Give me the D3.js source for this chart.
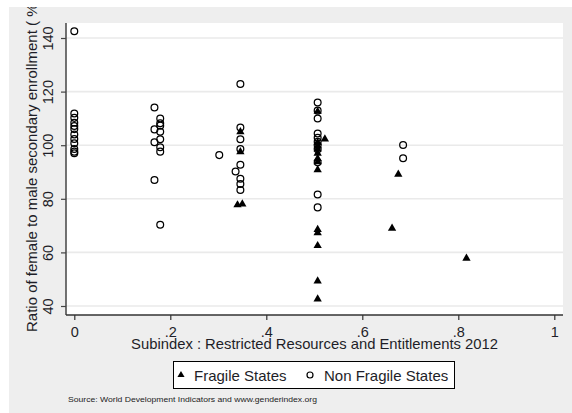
<!DOCTYPE html>
<html>
<head>
  <script src="https://cdn.jsdelivr.net/npm/d3@7"></script>
  <style>
    body { margin: 0; background: #fff; }
    svg { display: block; font-family: "Liberation Sans", Arial, sans-serif; }
  </style>
</head>
<body>
<div id="chart"></div>
<script>
  // non fragile states (hollow circles)
  const nonFragileX = [
    0, 0, 0, 0, 0, 0, 0, 0, 0, 0, 0, 0,
    .167, .167, .167, .167,
    .179, .179, .179, .179, .179, .179, .179, .179,
    .302,
    .346, .346, .346, .346, .346, .346, .346, .346, .336,
    .507, .507, .507, .507, .507, .507, .507, .507, .507, .507, .507,
    .685, .685
  ];
  const nonFragileY = [
    142.5, 111.8, 110.2, 108.4, 107.2, 106, 104, 102.3, 100.7, 98.6, 97.6, 97,
    114.1, 105.9, 101.1, 87.0,
    110, 108.2, 107.3, 105, 102.2, 99.2, 97.6, 70.3,
    96.3,
    122.8, 106.6, 102.2, 98.6, 92.7, 87.5, 85.5, 83.3, 90.2,
    115.9, 112.9, 110, 104.4, 102.8, 101.3, 100, 98.5, 93.6, 81.6, 76.8,
    100.1, 95.1
  ];

  // fragile states (filled triangles)
  const fragileX = [
    .346, .346, .340, .350,
    .507, .507, .507, .507, .507, .507, .507, .507, .507, .507, .507, .507, .507, .522,
    .675, .662, .817
  ];
  const fragileY = [
    105, 97.5, 77.7, 78,
    112.6, 101, 99.8, 98.5, 97, 95, 93.8, 90.8, 68.5, 67.3, 62.5, 49.3, 42.6, 102.3,
    89.1, 69, 57.8
  ];

  const xTicks = [0, .2, .4, .6, .8, 1];
  const yTicks = [40, 60, 80, 100, 120, 140];

  const W = 572, H = 413;
  const plot = { left: 66, right: 563, top: 23, bottom: 315 };
  const ink = "#1e1e28";

  const svg = d3.select("#chart").append("svg")
    .attr("width", W).attr("height", H);

  // graph region
  svg.append("rect").attr("x", 9).attr("y", 7)
    .attr("width", W - 9).attr("height", H - 7).attr("fill", "#eeeeee");
  svg.append("rect").attr("x", plot.left).attr("y", plot.top)
    .attr("width", plot.right - plot.left).attr("height", plot.bottom - plot.top)
    .attr("fill", "#fff");

  const x = d3.scaleLinear().domain([0, 1]).range([74.3, 554.3]);
  const y = d3.scaleLinear().domain([40, 140]).range([306, 38]);

  // grid
  svg.append("g").selectAll("line")
    .data(yTicks)
    .join("line")
    .attr("x1", plot.left).attr("x2", plot.right)
    .attr("y1", d => y(d)).attr("y2", d => y(d))
    .attr("stroke", "#eaeaea").attr("stroke-width", 1.6);

  const fmt = d => d === 0 ? "0" : d === 1 ? "1" : String(d).replace("0.", ".");

  // y axis
  const yAxis = svg.append("g")
    .attr("transform", `translate(${plot.left},0)`)
    .call(d3.axisLeft(y).tickValues(yTicks).tickSize(5).tickPadding(0).tickFormat(d3.format("d")));
  yAxis.select(".domain").attr("d", `M0,${plot.top}V${plot.bottom}`)
    .attr("stroke", "#444").attr("stroke-width", 1.5);
  yAxis.selectAll(".tick line").attr("stroke", "#444").attr("stroke-width", 1.2);
  yAxis.selectAll(".tick text")
    .attr("x", null).attr("dy", null)
    .attr("transform", "translate(-13,0) rotate(-90)")
    .attr("text-anchor", "middle")
    .attr("font-size", 14.5).attr("fill", ink);

  // x axis
  const xAxis = svg.append("g")
    .attr("transform", `translate(0,${plot.bottom})`)
    .call(d3.axisBottom(x).tickValues(xTicks).tickSize(5).tickPadding(0).tickFormat(fmt));
  xAxis.select(".domain").attr("d", `M${plot.left},0H${plot.right}`)
    .attr("stroke", "#333").attr("stroke-width", 1.5);
  xAxis.selectAll(".tick line").attr("stroke", "#333").attr("stroke-width", 1.2);
  xAxis.selectAll(".tick text")
    .attr("y", 22).attr("dy", null)
    .attr("font-size", 14.5).attr("fill", ink);

  // axis titles
  svg.append("text")
    .attr("x", (plot.left + plot.right) / 2).attr("y", 349)
    .attr("text-anchor", "middle").attr("font-size", 14.8).attr("fill", ink)
    .text("Subindex : Restricted Resources and Entitlements 2012");

  svg.append("text")
    .attr("transform", "translate(37,332) rotate(-90)")
    .attr("text-anchor", "start").attr("font-size", 15).attr("fill", ink)
    .text("Ratio of female to male secondary enrollment ( % )");

  // white margin covers the clipped title
  svg.append("rect").attr("x", 0).attr("y", 0).attr("width", W).attr("height", 7).attr("fill", "#fff");

  const tri = d3.symbol().type(d3.symbolTriangle).size(30);

  // markers
  svg.append("g").selectAll("circle")
    .data(nonFragileX.map((v, i) => [v, nonFragileY[i]]))
    .join("circle")
    .attr("cx", d => x(d[0])).attr("cy", d => y(d[1]))
    .attr("r", 3.4)
    .attr("fill", "none").attr("stroke", "#000").attr("stroke-width", 1.25);

  svg.append("g").selectAll("path")
    .data(fragileX.map((v, i) => [v, fragileY[i]]))
    .join("path")
    .attr("transform", d => `translate(${x(d[0])},${y(d[1])})`)
    .attr("d", tri)
    .attr("fill", "#000");

  // legend
  const lg = svg.append("g");
  lg.append("rect").attr("x", 173.5).attr("y", 361.5).attr("width", 281).attr("height", 27)
    .attr("fill", "#fff").attr("stroke", "#000").attr("stroke-width", 1);
  lg.append("path").attr("transform", "translate(181,375)")
    .attr("d", d3.symbol().type(d3.symbolTriangle).size(22)).attr("fill", "#000");
  lg.append("text").attr("x", 194).attr("y", 380.5)
    .attr("font-size", 15).attr("fill", ink).text("Fragile States");
  lg.append("circle").attr("cx", 310).attr("cy", 375).attr("r", 3)
    .attr("fill", "none").attr("stroke", "#000").attr("stroke-width", 1.2);
  lg.append("text").attr("x", 324).attr("y", 380.5)
    .attr("font-size", 15).attr("fill", ink).text("Non Fragile States");

  // note
  svg.append("text").attr("x", 68).attr("y", 402)
    .attr("font-size", 6.5).attr("fill", "#222")
    .attr("textLength", 249).attr("lengthAdjust", "spacingAndGlyphs")
    .text("Source: World Development Indicators and www.genderindex.org");
</script>
</body>
</html>
